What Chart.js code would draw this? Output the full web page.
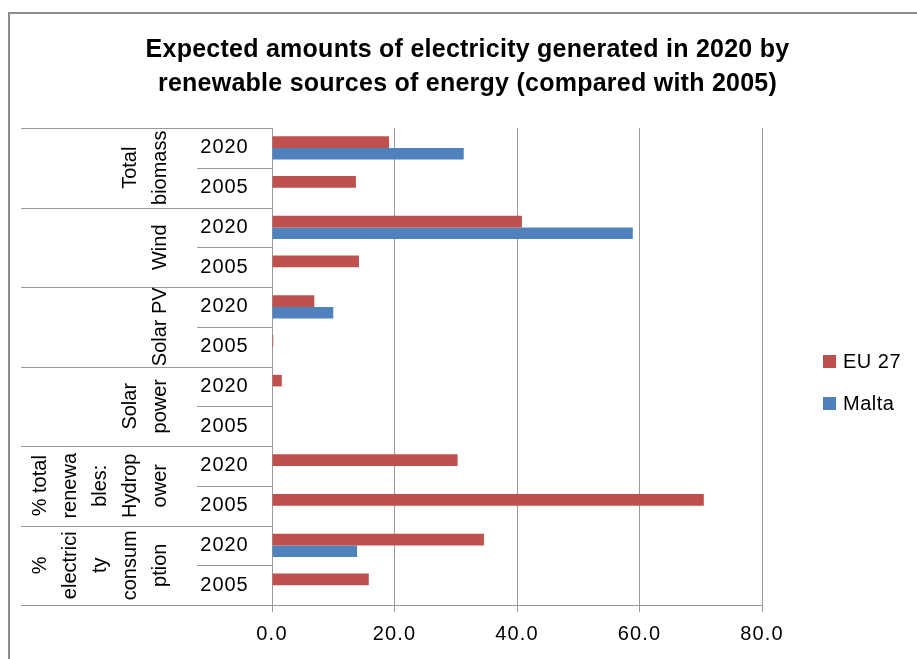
<!DOCTYPE html>
<html>
<head>
<meta charset="utf-8">
<title>Renewable electricity 2020 vs 2005</title>
<script src="https://cdn.jsdelivr.net/npm/chart.js@4.4.1/dist/chart.umd.min.js"></script>
<style>
  html, body { margin: 0; padding: 0; background: #fff; }
  #wrap { width: 917px; height: 659px; }
</style>
</head>
<body>
<div id="wrap"><canvas id="chart" width="917" height="659"></canvas></div>
<script>
const titleLines = [
  'Expected amounts of electricity generated in 2020 by',
  'renewable sources of energy (compared with 2005)',
];

// outer category level (wrapped the way the original axis wraps them)
const groupLines = [
  ['Total', 'biomass'],
  ['Wind'],
  ['Solar PV'],
  ['Solar', 'power'],
  ['% total', 'renewa', 'bles:', 'Hydrop', 'ower'],
  ['%', 'electrici', 'ty', 'consum', 'ption'],
];
const years = ['2020', '2005'];

const eu27 = [19.1, 13.7, 40.8, 14.2, 6.9, 0.2, 1.6, 0, 30.3, 70.5, 34.6, 15.8];
const malta = [31.3, 0, 58.9, 0, 10.0, 0, 0, 0, 0, 0, 13.9, 0];

const xTicks = [0, 20, 40, 60, 80];

const EU_COLOR = '#C0504D';
const MALTA_COLOR = '#4F81BD';
const GRID_COLOR = '#9a9a9a';
const FONT = "'Liberation Sans', Arial, sans-serif";
const PAD = { left: 173, right: 155, top: 128, bottom: 0 };

const labels = [];
groupLines.forEach((lines) => {
  years.forEach((year) => labels.push(lines.join(' ') + ' ' + year));
});

Chart.defaults.font.family = FONT;
Chart.defaults.color = '#000';

// the original text is set a little looser than Liberation Sans
const spacingPlugin = {
  id: 'spacing',
  beforeDraw(chart) {
    chart.ctx.letterSpacing = '1.2px';
  },
};

const axisLabelsPlugin = {
  id: 'axisLabels',
  afterDraw(chart) {
    const { ctx, chartArea } = chart;
    const yScale = chart.scales.y;
    const left = chartArea.left;

    ctx.save();
    ctx.letterSpacing = '0px';

    // chart frame (left + top edge, the rest is cut off)
    ctx.strokeStyle = '#8c8c8c';
    ctx.lineWidth = 2;
    ctx.beginPath();
    ctx.moveTo(9, chart.height);
    ctx.lineTo(9, 13);
    ctx.lineTo(chart.width, 13);
    ctx.stroke();

    // title
    ctx.fillStyle = '#000';
    ctx.font = 'bold 25px ' + FONT;
    ctx.letterSpacing = '0.25px';
    ctx.textAlign = 'center';
    ctx.textBaseline = 'alphabetic';
    const titleX = (PAD.left + chart.width - PAD.right) / 2;
    titleLines.forEach((line, i) => {
      ctx.fillText(line, titleX, 57 + i * 34);
    });
    ctx.letterSpacing = '0px';

    // separators between categories
    ctx.strokeStyle = GRID_COLOR;
    ctx.lineWidth = 1;
    for (let i = 0; i <= labels.length; i++) {
      let y;
      if (i === 0) {
        y = chartArea.top;
      } else if (i === labels.length) {
        y = chartArea.bottom;
      } else {
        y = (yScale.getPixelForValue(i - 1) + yScale.getPixelForValue(i)) / 2;
      }
      y = Math.round(y) + 0.5;
      const x0 = i % 2 === 0 ? 21 : left - 75;
      ctx.beginPath();
      ctx.moveTo(x0, y);
      ctx.lineTo(left, y);
      ctx.stroke();
    }

    // outer level: rotated group names
    ctx.font = '20px ' + FONT;
    groupLines.forEach((lines, g) => {
      const cy = (yScale.getPixelForValue(g * 2) + yScale.getPixelForValue(g * 2 + 1)) / 2;
      lines.forEach((line, k) => {
        const x = left - 106 - 30 * (lines.length - 1 - k);
        ctx.save();
        ctx.translate(x, cy);
        ctx.rotate(-Math.PI / 2);
        ctx.fillText(line, 0, 0);
        ctx.restore();
      });
    });

    // inner level: years
    ctx.letterSpacing = '1px';
    ctx.textBaseline = 'middle';
    labels.forEach((_, i) => {
      ctx.fillText(years[i % years.length], left - 47.5, yScale.getPixelForValue(i));
    });

    // legend
    const legendY = [362, 404];
    ctx.letterSpacing = '0.5px';
    ctx.textAlign = 'left';
    chart.data.datasets.forEach((ds, i) => {
      ctx.fillStyle = ds.backgroundColor;
      ctx.fillRect(823, legendY[i] - 7, 13, 13);
      ctx.fillStyle = '#000';
      ctx.fillText(ds.label, 843, legendY[i]);
    });

    ctx.restore();
  },
};

const chartCanvas = document.getElementById('chart');

new Chart(chartCanvas, {
  type: 'bar',
  data: {
    labels: labels,
    datasets: [
      {
        label: 'EU 27',
        data: eu27,
        backgroundColor: EU_COLOR,
        categoryPercentage: 0.58,
        barPercentage: 1,
      },
      {
        label: 'Malta',
        data: malta,
        backgroundColor: MALTA_COLOR,
        categoryPercentage: 0.58,
        barPercentage: 1,
      },
    ],
  },
  options: {
    indexAxis: 'y',
    responsive: false,
    animation: false,
    layout: { padding: PAD },
    plugins: {
      legend: { display: false },
      tooltip: { enabled: false },
      title: { display: false },
    },
    scales: {
      x: {
        min: 0,
        max: 80,
        afterBuildTicks: (scale) => {
          scale.ticks = xTicks.map((v) => ({ value: v }));
        },
        afterFit: (scale) => {
          scale.height = 54;
        },
        ticks: {
          callback: (v) => Number(v).toFixed(1),
          font: { size: 20 },
          color: '#000',
          padding: 10,
          maxRotation: 0,
        },
        grid: { color: GRID_COLOR, tickLength: 7 },
        border: { color: GRID_COLOR },
      },
      y: {
        afterFit: (scale) => {
          scale.width = 99;
        },
        ticks: { display: false },
        grid: { display: false },
        border: { color: GRID_COLOR },
      },
    },
  },
  plugins: [spacingPlugin, axisLabelsPlugin],
});
</script>
</body>
</html>
